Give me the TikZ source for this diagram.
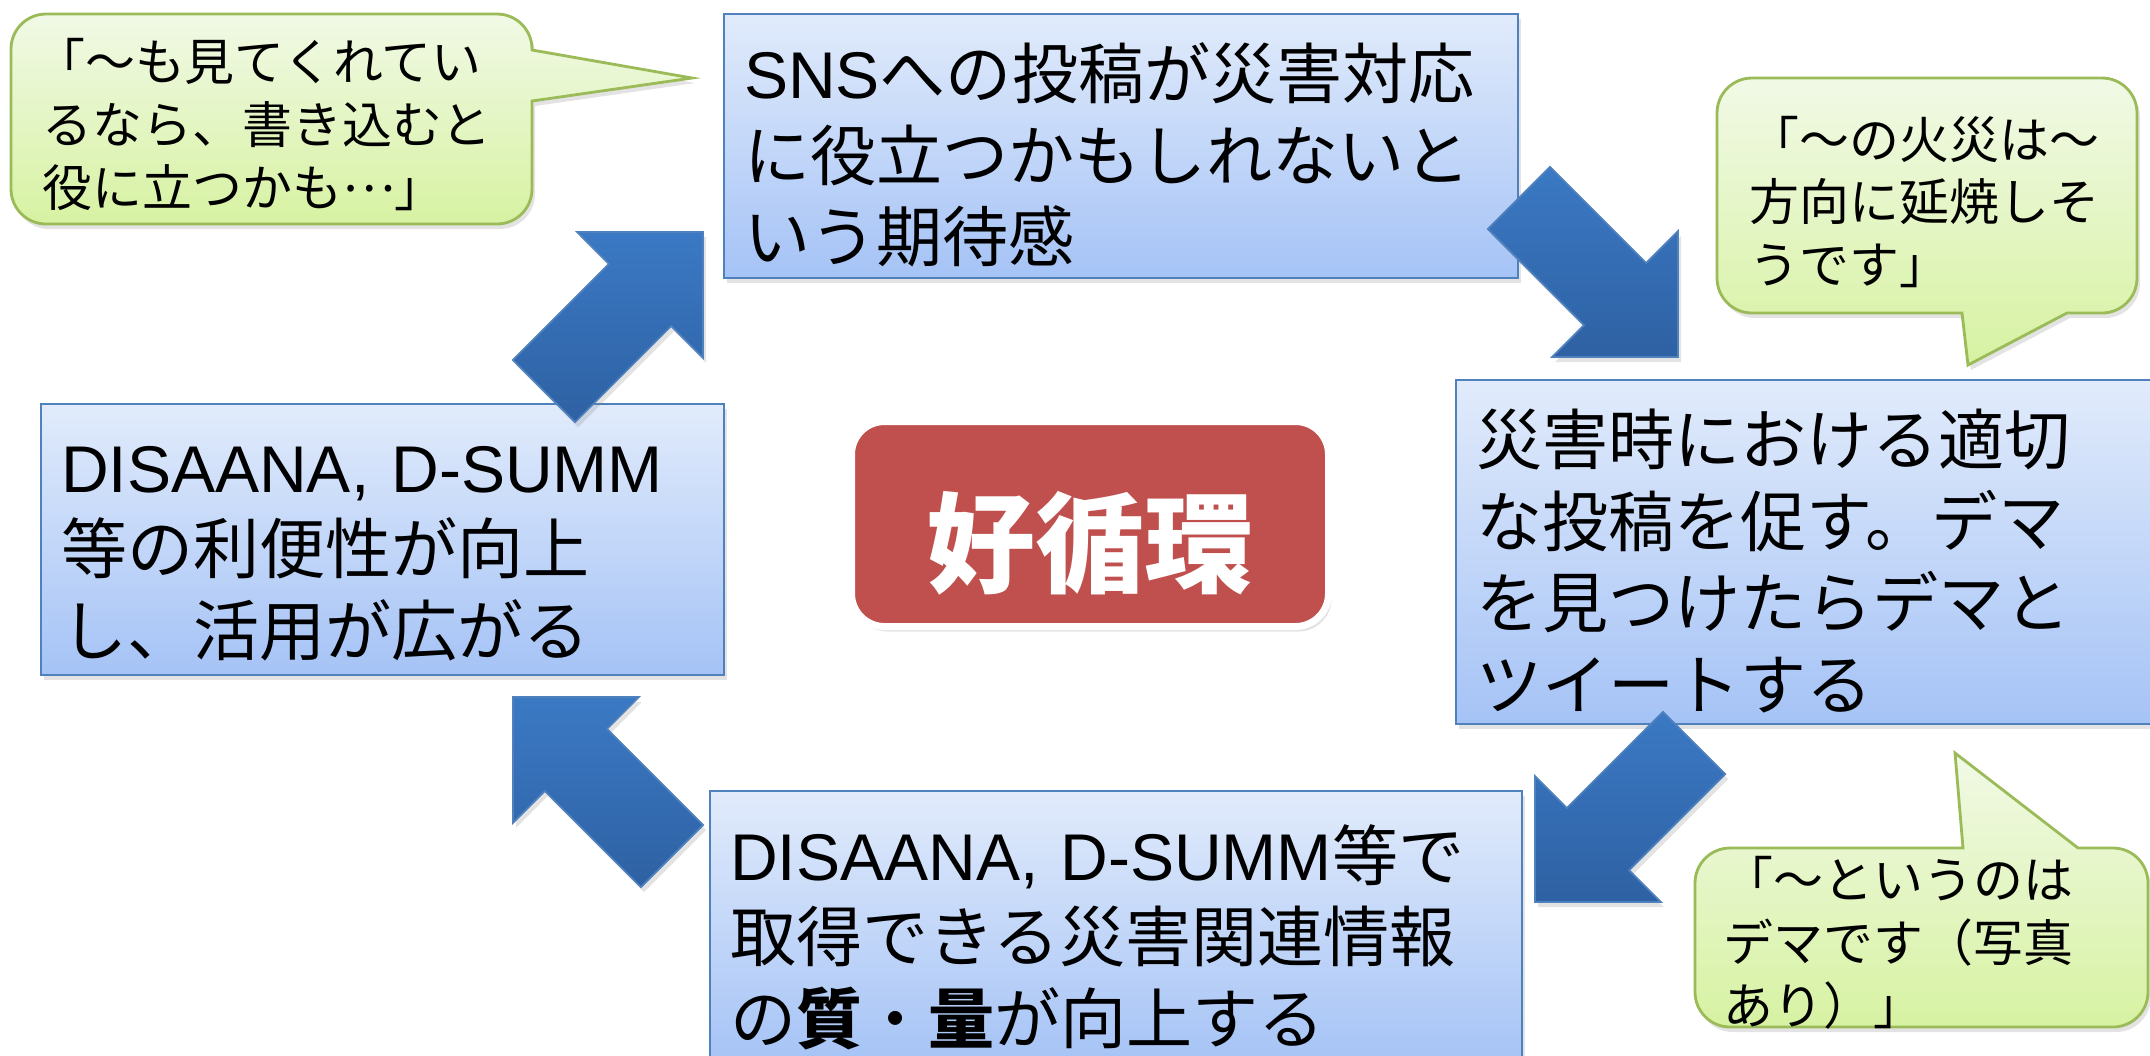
\documentclass[tikz,border=0pt]{standalone}
\usepackage{fontspec}
\setmainfont{Noto Sans CJK JP}
\newfontfamily\latinfont{Liberation Sans}
\usetikzlibrary{shadows}

\definecolor{boxtop}{HTML}{E1EBFB}
\definecolor{boxbot}{HTML}{A5C3F6}
\definecolor{boxline}{HTML}{4F81BD}
\definecolor{calltop}{HTML}{F1F9E6}
\definecolor{callbot}{HTML}{D7F2A2}
\definecolor{callline}{HTML}{9BBB59}
\definecolor{arrtop}{HTML}{3B79C4}
\definecolor{arrbot}{HTML}{2E61A3}
\definecolor{cyclered}{HTML}{C0504D}

\begin{document}
\begin{tikzpicture}
        \tikzset{softshadow/.style={drop shadow={opacity=.22,shadow xshift=.03cm,shadow yshift=-.05cm}},
    infobox/.style={draw=boxline,line width=.8pt,top color=boxtop,bottom color=boxbot,softshadow,
      inner xsep=.2cm,inner ysep=0pt,align=left,font=\fontsize{18.8}{23.2}\selectfont,
      execute at begin node={\rule{0pt}{21pt}}},
    calloutbg/.style={draw=callline,line width=.8pt,top color=calltop,bottom color=callbot,softshadow},
    callouttext/.style={anchor=west,inner sep=0pt,align=left,font=\fontsize{14.2}{17.9}\selectfont},
    cyclebox/.style={fill=cyclered,draw=white,line width=.07cm,rounded corners=.33cm,softshadow,
      minimum width=4.77cm,minimum height=2.05cm,text height=1.2cm,text depth=0cm,
      text=white,font=\fontsize{31}{31}\selectfont\bfseries},
    bigarrow/.pic={\draw[draw=boxline,line width=.5pt,top color=arrtop,bottom color=arrbot,softshadow]
      (0,0) -- (-.89,.89) -- (-.89,.44) -- (-2.25,.44) -- (-2.25,-.44) -- (-.89,-.44) -- (-.89,-.89) -- cycle;}}
        \useasboundingbox (0,0) rectangle (21.5,-10.55);
        % callout shapes
        \path[calloutbg] (.46,-.14) -- (4.97,-.14) arc[start angle=90,end angle=0,radius=.35] -- (5.32,-.50)
          -- (6.92,-.78) -- (5.32,-1.01) -- (5.32,-1.89) arc[start angle=0,end angle=-90,radius=.35]
          -- (.46,-2.24) arc[start angle=270,end angle=180,radius=.35] -- (.11,-.49)
          arc[start angle=180,end angle=90,radius=.35] -- cycle;
        \path[calloutbg] (17.52,-.78) -- (21.02,-.78) arc[start angle=90,end angle=0,radius=.35]
          -- (21.37,-2.78) arc[start angle=0,end angle=-90,radius=.35] -- (20.67,-3.13) -- (19.68,-3.65)
          -- (19.62,-3.13) -- (17.52,-3.13) arc[start angle=270,end angle=180,radius=.35]
          -- (17.17,-1.13) arc[start angle=180,end angle=90,radius=.35] -- cycle;
        \path[calloutbg] (17.30,-8.48) -- (19.63,-8.48) -- (19.55,-7.53) -- (20.78,-8.48) -- (21.13,-8.48)
          arc[start angle=90,end angle=0,radius=.35] -- (21.48,-9.92) arc[start angle=0,end angle=-90,radius=.35]
          -- (17.30,-10.27) arc[start angle=270,end angle=180,radius=.35] -- (16.95,-8.83)
          arc[start angle=180,end angle=90,radius=.35] -- cycle;
        \node[callouttext] (hope) at (.42,-1.245) {\kern-.15em「〜も見てくれてい\\るなら、書き込むと\\役に立つかも\raisebox{.3em}{…}」};
        \node[callouttext] (fire) at (17.49,-2.02) {「〜の火災は〜\\方向に延焼しそ\\うです」};
        \node[callouttext] (rumor) at (17.23,-9.43) {「〜というのは\\デマです（写真\\あり）」};
        % the four steps
        \node[infobox,minimum height=2.64cm,text width=7.54cm] (post) at (11.21,-1.46)
          {{\latinfont SNS}への投稿が災害対応\\に役立つかもしれないと\\いう期待感};
        \node[infobox,minimum height=3.44cm,text width=6.60cm] (tweet) at (18.06,-5.52)
          {災害時における適切\\な投稿を促す。デマ\\を見つけたらデマと\\ツイートする};
        \node[infobox,minimum height=2.74cm,text width=7.72cm] (quality) at (11.16,-9.28)
          {{\latinfont DISAANA, D-SUMM}等で\\取得できる災害関連情報\\の{\bfseries 質}・{\bfseries 量}が向上する};
        \node[infobox,minimum height=2.71cm,text width=6.43cm] (usage) at (3.825,-5.395)
          {{\latinfont DISAANA, D-SUMM}\\等の利便性が向上\\し、活用が広がる};
        \node[cyclebox] (cycle) at (10.90,-5.24) {好循環};
        % block arrows round the cycle
        \pic[rotate=45] at (7.03,-2.32) {bigarrow};
        \pic[rotate=-45] at (16.78,-3.57) {bigarrow};
        \pic[rotate=-135] at (15.35,-9.02) {bigarrow};
        \pic[rotate=135] at (5.13,-6.97) {bigarrow};
\end{tikzpicture}
\end{document}
